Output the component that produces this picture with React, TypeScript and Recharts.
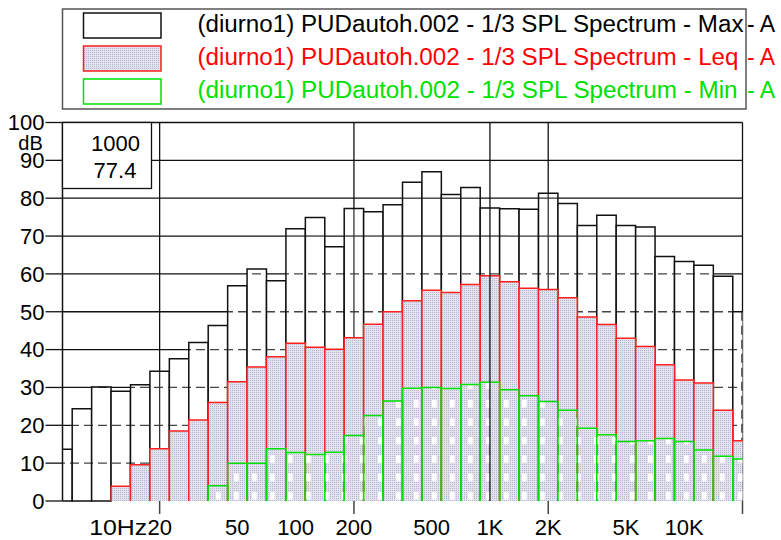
import { ComposedChart, Bar, XAxis, YAxis, CartesianGrid, ReferenceLine } from 'recharts'

const W = 781
const H = 540
const PLOT_LEFT = 62.5
const PLOT_RIGHT = 742.5
const PLOT_TOP = 122.5
const PLOT_BOTTOM = 501
const FONT = '"Liberation Sans", Arial, Helvetica, sans-serif'

// 1/3 octave bands, 6.3 Hz .. 20 kHz
const BANDS = [
  '6.3', '8', '10', '12.5', '16', '20', '25', '31.5', '40', '50', '63', '80',
  '100', '125', '160', '200', '250', '315', '400', '500', '630', '800', '1K', '1.25K',
  '1.6K', '2K', '2.5K', '3.15K', '4K', '5K', '6.3K', '8K', '10K', '12.5K', '16K', '20K',
]
const MAX_A = [
  13.7, 24.4, 30.1, 29.0, 30.7, 34.3, 37.6, 41.9, 46.4, 56.9, 61.3, 58.2,
  71.9, 74.9, 67.2, 77.3, 76.4, 78.3, 84.2, 87.0, 81.0, 82.8, 77.4, 77.2,
  77.1, 81.3, 78.6, 72.8, 75.5, 72.8, 72.4, 64.6, 63.3, 62.3, 59.4, 50.0,
]
const LEQ_A = [
  0, 0, 0, 3.9, 9.6, 13.8, 18.5, 21.4, 26.0, 31.5, 35.4, 38.1,
  41.7, 40.6, 40.1, 43.1, 46.7, 50.0, 52.9, 55.7, 55.1, 57.2, 59.5, 57.9,
  56.2, 55.9, 53.7, 48.6, 46.6, 43.0, 40.8, 36.0, 32.0, 31.2, 24.0, 15.9,
]
const MIN_A = [
  0, 0, 0, 0, 0, 0, 0, 0, 4.0, 10.0, 10.0, 13.8,
  12.8, 12.3, 12.9, 17.3, 22.6, 26.4, 29.8, 30.0, 29.7, 30.8, 31.4, 29.4,
  27.8, 26.3, 24.0, 19.2, 17.5, 15.7, 15.9, 16.5, 15.7, 13.5, 11.8, 11.1,
]

const Y_TICKS = [0, 10, 20, 30, 40, 50, 60, 70, 80, 90, 100]
const X_TICK_BANDS = ['10', '20', '50', '100', '200', '500', '1K', '2K', '5K', '10K', '20K']
const X_TICK_LABELS = ['10Hz', '20', '50', '100', '200', '500', '1K', '2K', '5K', '10K', '']
const GRID_BANDS = ['20', '200', '2K', '20K']
const CURSOR_BAND = '1K'
const CURSOR_TEXT = ['1000', '77.4']

const LEGEND = [
  { text: '(diurno1) PUDautoh.002 - 1/3 SPL Spectrum - Max', color: '#000', len: 546 },
  { text: '(diurno1) PUDautoh.002 - 1/3 SPL Spectrum - Leq', color: '#ff0000', len: 541 },
  { text: '(diurno1) PUDautoh.002 - 1/3 SPL Spectrum - Min', color: '#00e000', len: 540 },
]

const BLACK = '#111'
const RED = '#ff1f1f'
const GREEN = '#00e000'
const LAST = BANDS.length - 1
const BAND_PX = (PLOT_RIGHT - PLOT_LEFT) / LAST
const X_TICK_SIZE = 14
const X_TICK_MARGIN = 4

const bandIdx = (b: string) => BANDS.indexOf(b)
const GRID_IDX = GRID_BANDS.map(bandIdx)

const data = BANDS.map((band, idx) => ({ band, idx, max: MAX_A[idx], leq: LEQ_A[idx], min: MIN_A[idx] }))

const sides = (x: number, y: number, w: number, h: number) => `M${x},${y + h}V${y}H${x + w}V${y + h}`

// white box, grid re-drawn inside (dashed for the lower levels), black outline
function MaxShape(props: any) {
  const { x, y, width, height, payload } = props
  if (!(height > 0)) return <g />
  const bottom = y + height
  const pxPerDb = height / payload.max
  const cx = x + width / 2
  return (
    <g>
      <rect x={x} y={y} width={width} height={height} fill="#fff" />
      {Y_TICKS.filter((v) => v > 0 && v < payload.max).map((v) => {
        const ly = bottom - v * pxPerDb
        const dashed = v <= 60
        return (
          <line
            key={v}
            x1={x}
            x2={x + width}
            y1={ly}
            y2={ly}
            stroke={dashed ? '#444' : '#333'}
            strokeWidth={1.3}
            strokeDasharray={dashed ? '9 5' : undefined}
            strokeDashoffset={dashed ? x % 14 : undefined}
          />
        )
      })}
      {GRID_IDX.includes(payload.idx) && (
        <line
          x1={cx}
          x2={cx}
          y1={y}
          y2={bottom}
          stroke="#333"
          strokeWidth={payload.idx === LAST ? 2.5 : 1.3}
          strokeDasharray={payload.idx === LAST ? '9 5' : undefined}
        />
      )}
      <path
        d={payload.leq > 0 ? sides(x, y, width, height) : `M${x},${y}H${x + width}V${bottom}H${x}Z`}
        fill="none"
        stroke={BLACK}
        strokeWidth={1.5}
      />
    </g>
  )
}

function LeqShape(props: any) {
  const { x, y, width, height } = props
  if (!(height > 0)) return <g />
  return (
    <g>
      <rect x={x} y={y} width={width} height={height} fill="url(#leqFill)" />
      <path d={sides(x, y, width, height)} fill="none" stroke={RED} strokeWidth={1.5} />
    </g>
  )
}

function MinShape(props: any) {
  const { x, y, width, height } = props
  if (!(height > 0)) return <g />
  return (
    <g>
      <rect x={x} y={y} width={width} height={height} fill="url(#minDots)" />
      <path d={sides(x, y, width, height)} fill="none" stroke={GREEN} strokeWidth={1.5} />
    </g>
  )
}

function XTick(props: any) {
  const { x, y, payload } = props
  const band = BANDS[payload.value]
  const label = X_TICK_LABELS[X_TICK_BANDS.indexOf(band)] ?? ''
  const axisY = y - X_TICK_SIZE - X_TICK_MARGIN
  const txt = { fontSize: 22, fontFamily: FONT, fill: '#000' }
  return (
    <g>
      {GRID_BANDS.includes(band) && (
        <line x1={x} x2={x} y1={axisY} y2={axisY + 13} stroke="#444" strokeWidth={1.5} />
      )}
      {label.endsWith('Hz') ? (
        // number centred on its tick, unit trailing right up to the next label
        <text x={x - 12.2} y={y} dy="0.71em" textAnchor="start" textLength={58} lengthAdjust="spacingAndGlyphs" {...txt}>
          {label}
        </text>
      ) : (
        <text x={x} y={y} dy="0.71em" textAnchor="middle" {...txt}>{label}</text>
      )}
    </g>
  )
}

export default function App() {
  const xTicks = X_TICK_BANDS.map(bandIdx)
  const barSize = BAND_PX - 0.01
  return (
    <div style={{ position: 'absolute', left: 0, top: 0, width: W, height: H, background: '#fff' }}>
      <svg width={0} height={0} style={{ position: 'absolute' }}>
        <defs>
          <pattern id="leqFill" patternUnits="userSpaceOnUse" width={2} height={2}>
            <rect width={2} height={2} fill="#e3e3ef" />
            <rect width={1} height={1} fill="#b6b6ce" />
          </pattern>
          <pattern id="minDots" patternUnits="userSpaceOnUse" x={216} y={492} width={18} height={18.4}>
            <rect width={4.7} height={7.5} fill="#fff" />
          </pattern>
        </defs>
      </svg>

      <ComposedChart
        width={W}
        height={H}
        data={data}
        barGap={0}
        barCategoryGap={0}
        margin={{ top: PLOT_TOP, right: W - PLOT_RIGHT, bottom: 0, left: 0 }}
      >
        <CartesianGrid
          stroke={BLACK}
          strokeWidth={1.3}
          horizontalValues={Y_TICKS.filter((v) => v > 0)}
          verticalValues={GRID_IDX}
        />
        <XAxis
          type="number"
          dataKey="idx"
          domain={[0, LAST]}
          allowDataOverflow
          ticks={xTicks}
          interval={0}
          tickLine={false}
          axisLine={false}
          tickSize={X_TICK_SIZE}
          tickMargin={X_TICK_MARGIN}
          height={H - PLOT_BOTTOM}
          tick={(p: any) => <XTick {...p} />}
        />
        <XAxis xAxisId="leq" type="number" dataKey="idx" domain={[0, LAST]} allowDataOverflow hide />
        <XAxis xAxisId="min" type="number" dataKey="idx" domain={[0, LAST]} allowDataOverflow hide />
        <YAxis
          domain={[0, 100]}
          ticks={Y_TICKS}
          interval={0}
          width={PLOT_LEFT}
          tickSize={17}
          tickMargin={1}
          tick={{ fontSize: 22, fill: '#000', fontFamily: FONT }}
          axisLine={{ stroke: BLACK, strokeWidth: 1.5 }}
          tickLine={{ stroke: BLACK, strokeWidth: 1.3 }}
        />
        <Bar dataKey="max" name="Max" barSize={barSize} shape={MaxShape} isAnimationActive={false} />
        <Bar xAxisId="leq" dataKey="leq" name="Leq" barSize={barSize} shape={LeqShape} isAnimationActive={false} />
        <Bar xAxisId="min" dataKey="min" name="Min" barSize={barSize} shape={MinShape} isAnimationActive={false} />
        <ReferenceLine x={bandIdx(CURSOR_BAND)} stroke={BLACK} strokeWidth={1.3} />
      </ComposedChart>

      <svg
        width={W}
        height={H}
        style={{ position: 'absolute', left: 0, top: 0, pointerEvents: 'none' }}
        fontFamily={FONT}
      >
        {/* legend */}
        <rect x={62.5} y={9} width={683.5} height={100} fill="#fff" stroke="#555" strokeWidth={1.5} />
        {LEGEND.map((row, i) => {
          const top = 13 + i * 33
          return (
            <g key={row.text}>
              <rect
                x={83.5}
                y={top}
                width={77.5}
                height={25}
                fill={i === 1 ? 'url(#leqFill)' : '#fff'}
                stroke={i === 0 ? BLACK : i === 1 ? RED : GREEN}
                strokeWidth={1.5}
              />
              <text x={197.5} y={top + 18.5} fontSize={23} fill={row.color} textLength={row.len} lengthAdjust="spacingAndGlyphs">
                {row.text}
              </text>
              <text x={747} y={top + 18.5} fontSize={23} fill={row.color}>- A</text>
            </g>
          )
        })}

        {/* unit + cursor readout */}
        <text x={30.5} y={143} fontSize={20} textAnchor="middle" dominantBaseline="central" fill="#000">dB</text>
        <rect x={PLOT_LEFT} y={PLOT_TOP} width={89} height={66} fill="#fff" stroke={BLACK} strokeWidth={1.3} />
        <text x={115.5} y={143} fontSize={22} textAnchor="middle" dominantBaseline="central" fill="#000">{CURSOR_TEXT[0]}</text>
        <text x={115} y={170} fontSize={22} textAnchor="middle" dominantBaseline="central" fill="#000">{CURSOR_TEXT[1]}</text>
      </svg>
    </div>
  )
}
